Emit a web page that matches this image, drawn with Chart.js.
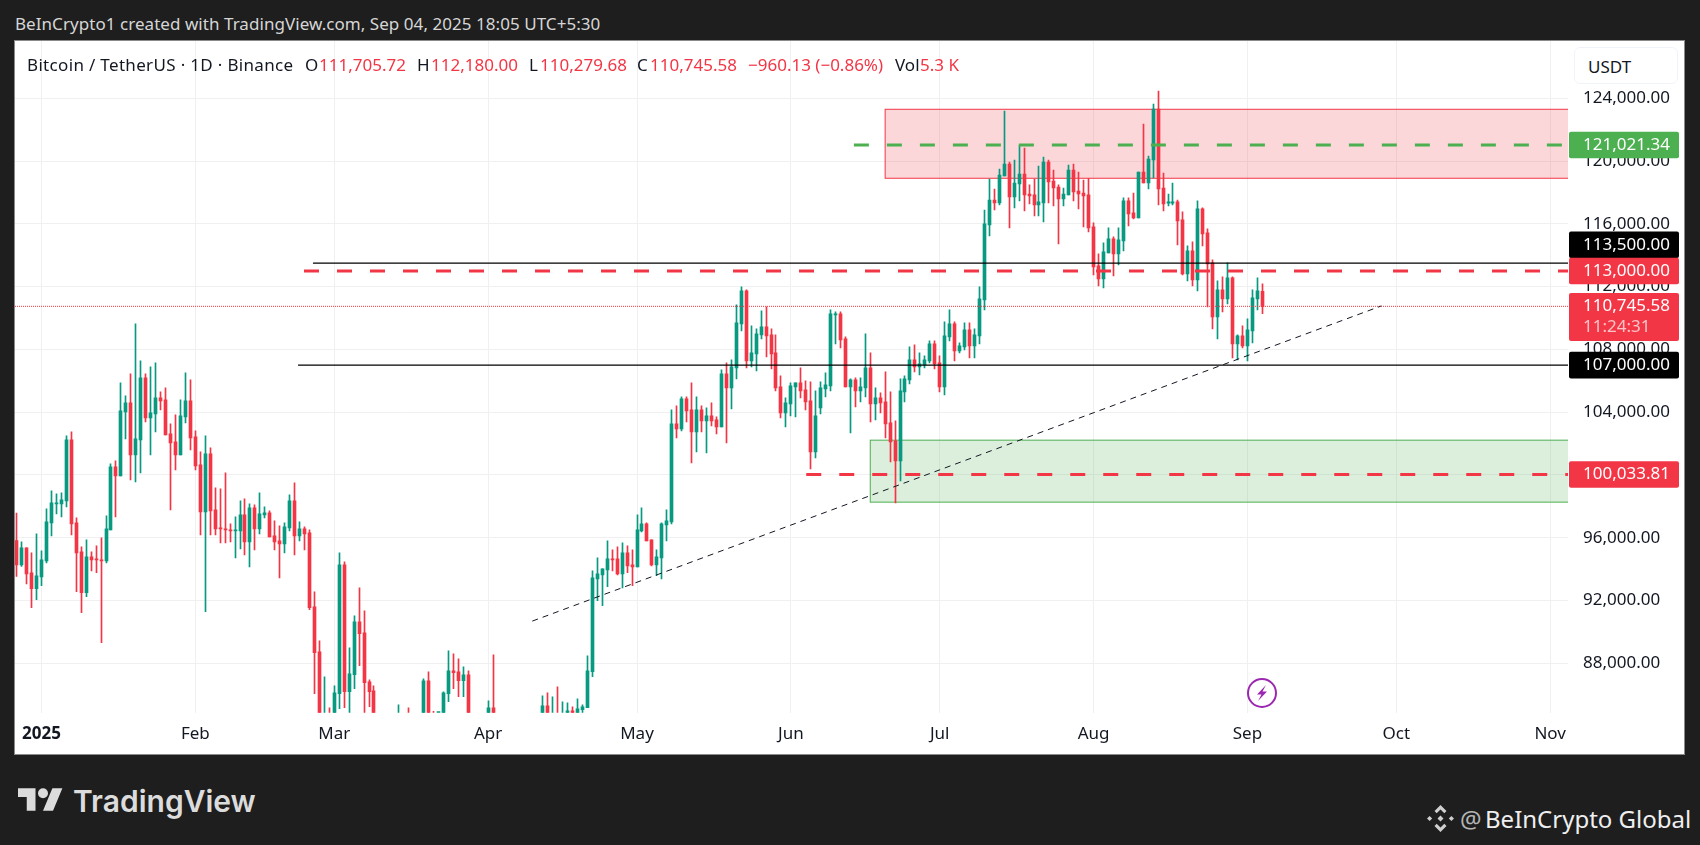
<!DOCTYPE html>
<html><head><meta charset="utf-8"><title>BTCUSDT</title>
<script src="https://cdn.jsdelivr.net/npm/chart.js@4"></script>
<style>
html,body{margin:0;padding:0;background:#1e1e1e;width:1700px;height:845px;overflow:hidden;font-family:"Noto Sans",sans-serif}
.t{position:absolute;white-space:pre;line-height:1;transform:translateY(-50%)}
#frame{position:absolute;left:15px;top:41px;width:1669px;height:713px;background:#fff;box-shadow:0 0 0 1px #8a8a8a}
canvas{position:absolute;left:15px;top:41px}
.k{color:#131722}.r{color:#f23645}
#usdt{position:absolute;left:1574px;top:47px;width:104px;height:37px;border:1px solid #f0f3fa;border-radius:6px;box-sizing:border-box;background:#fff}
</style></head><body>
<div id="frame"></div>
<canvas id="c" width="1669" height="713"></canvas>
<div class="t" style="left:15px;top:23px;font-size:17px;color:#d6d6d6;letter-spacing:.05px">BeInCrypto1 created with TradingView.com, Sep 04, 2025 18:05 UTC+5:30</div>
<div class="t k" style="left:27px;top:64px;font-size:17px;letter-spacing:.33px">Bitcoin / TetherUS · 1D · Binance</div>
<div class="t k" style="left:305px;top:64px;font-size:17px">O</div><div class="t r" style="left:319px;top:64px;font-size:17px">111,705.72</div>
<div class="t k" style="left:417px;top:64px;font-size:17px">H</div><div class="t r" style="left:431px;top:64px;font-size:17px">112,180.00</div>
<div class="t k" style="left:529px;top:64px;font-size:17px">L</div><div class="t r" style="left:540px;top:64px;font-size:17px">110,279.68</div>
<div class="t k" style="left:637px;top:64px;font-size:17px">C</div><div class="t r" style="left:650px;top:64px;font-size:17px">110,745.58</div>
<div class="t r" style="left:748px;top:64px;font-size:17px">−960.13 (−0.86%)</div>
<div class="t k" style="left:895px;top:64px;font-size:17px">Vol</div><div class="t r" style="left:920px;top:64px;font-size:17px">5.3 K</div>
<div id="usdt"></div><div class="t k" style="left:1588px;top:66px;font-size:17px">USDT</div>
<svg style="position:absolute;left:1246px;top:677px" width="32" height="32" viewBox="0 0 32 32"><circle cx="16" cy="16" r="14" fill="#fff" stroke="#9c27b0" stroke-width="2"/><path d="M20 8 L11 17.5 L15.5 17.5 L12 24 L21 14.5 L16.5 14.5 Z" fill="#9c27b0"/></svg>
<svg style="position:absolute;left:18px;top:788px" width="45" height="23" viewBox="0 0 36 18"><path fill="#dcdcdc" d="M14 18H7V7H0V0h14zM28 18h-8L27.5 0h8z"/><circle cx="20" cy="4" r="4" fill="#dcdcdc"/></svg>
<div class="t" style="left:73px;top:801px;font-size:30px;font-weight:600;font-family:Inter,sans-serif;color:#dcdcdc">TradingView</div>
<svg style="position:absolute;left:1427px;top:805px" width="27" height="27" viewBox="0 0 27 27" fill="#cfcfcf"><path d="M13.5 0l6 6-2.2 2.2-3.8-3.8-3.8 3.8L7.5 6zM0 13.5l2.6-2.6 2.6 2.6-2.6 2.6zM21.8 13.5l2.6-2.6 2.6 2.6-2.6 2.6zM13.5 10.5l3 3-3 3-3-3zM7.5 21l2.2-2.2 3.8 3.8 3.8-3.8 2.2 2.2-6 6z"/></svg>
<div class="t" style="left:1460px;top:819px;font-size:24px;color:#b5b5b5">@</div>
<div class="t" style="left:1485px;top:819px;font-size:24px;color:#efefef">BeInCrypto Global</div>
<script>
// Day numbers count from 1 Jan 2025 = 0; the first visible candle is 27 Dec 2024.
const firstDay = -5;
const opens = [95826,94276,95359,93767,92748,
93512,94531,96951,98161,98161,98352,102237,96951,95104,92493,
94786,94658,94595,94531,96505,100518,99945,104021,104594,101282,
102237,106186,103639,103893,104912,104785,102620,102110,101282,103702,
104721,102428,100645,97652,101346,97779,96633,96569,96505,96442,
96442,97461,95741,97906,96569,97461,97588,96123,95805,95614,
96633,98352,96123,96569,96314,91601,88735,84200,84700,84350,
86060,94276,86188,87270,90646,89945,86825,86251,80700,78500,
82900,83600,81000,83900,84300,82500,84000,83600,86888,84200,
83800,83800,86060,87525,87461,86888,87270,84300,82600,82400,
82500,85168,82500,83100,83800,83500,78400,79100,76300,82500,
79600,83400,85296,83700,84500,83600,84000,84977,84400,85041,
85168,87461,93384,93639,93958,94658,94658,93703,95040,94276,
94149,96442,96887,95868,94276,94722,96824,97015,103257,102938,
104849,104148,102747,104148,103448,103766,103511,103066,106441,105549,
106823,109626,111727,107269,107715,108925,109435,108925,107779,105613,
103957,104530,105613,105868,105422,104722,101473,104276,105486,105677,
110199,110263,108670,105613,106059,105358,105549,106823,104530,104913,
104658,103320,102174,100900,105295,106059,107333,106887,107014,107269,
108352,107142,105613,108798,109626,107906,108161,109243,108224,108861,
111153,115930,117522,117331,119051,119815,117713,118541,119178,117904,
117841,117204,117331,119942,118732,118350,117586,117841,119433,118095,
117968,117841,115803,113319,112491,114147,115038,114083,114911,117459,
116694,116376,119306,118605,120070,123318,118286,117310,117310,117395,
116248,112809,114274,112427,116949,115420,113510,110070,111790,111217,
112554,108351,108860,108223,109179,111217,111705.72];
const highs = [97567,95741,95359,95040,96251,
95168,97843,98989,98798,98862,102492,102747,97270,95423,95868,
95104,95486,95996,97397,100709,100900,105868,105040,106441,109625,
107269,106441,106887,107142,105295,105549,103256,103830,104785,106505,
106059,102811,101473,102492,101728,99180,99117,100136,96887,97333,
98352,98480,98161,98098,98862,97970,97715,97079,96760,96951,
98734,99499,97015,96696,96505,92557,89436,87143,85170,86569,
95040,94467,88990,91028,92811,91346,86952,86570,84000,83500,
84300,84000,85360,84600,85168,84700,84500,87015,87461,84935,
84500,86188,88799,88608,88289,87780,87525,84500,83500,83900,
85614,88544,83200,84700,84200,83800,81200,80800,83500,82700,
84300,85933,86124,85869,86506,85551,85487,85232,85742,85360,
88480,93894,94722,94021,95805,95231,95423,95677,95486,95231,
97461,97906,96951,95868,95231,96951,97779,104148,104403,104976,
104976,105868,104976,104403,104276,104594,103702,106696,107142,107333,
110836,111982,111791,109498,109307,110454,110708,109307,108925,106314,
104913,105868,105868,106823,105995,105932,105358,105932,106505,110517,
110390,110390,108798,106123,106186,106186,108989,107779,105549,105231,
106569,105295,103448,106123,106314,108161,108288,107779,107588,108543,
108543,107588,109753,110517,109753,108416,109689,109689,109307,111982,
116885,118860,118223,119497,123191,119942,120070,121025,120834,118478,
118860,119688,120261,120070,119433,118478,118286,119751,119815,119306,
118796,118902,116057,114083,114784,115739,115166,115739,117650,117650,
117968,119306,122363,120325,123636,124464,119242,117904,118605,117522,
116758,114592,114847,117459,117013,115675,113701,112363,112618,113510,
112618,108924,109497,109943,111790,112554,112180];
const lows = [93533,94170,93066,91537,92047,
92939,94404,96123,97524,97333,97970,96187,92557,91219,92238,
93894,93767,89308,94404,96505,97333,99945,102301,99690,99562,
100136,103384,101282,102747,104148,102556,97779,100327,101282,103320,
101600,100327,96187,91283,96187,96187,95677,95677,95741,94722,
95295,94913,94149,95231,96251,97270,96059,95231,93448,95040,
96442,94913,95805,95231,91410,86060,82200,82700,78200,83800,
85105,85168,81400,86379,87844,84600,85232,80000,77400,76600,
82000,79900,80800,83600,81900,82400,81100,82000,83600,83200,
83600,83200,85551,86379,85869,85869,83900,81600,81500,81300,
82400,82300,81200,81600,82300,77100,74500,76200,74600,78400,
78900,83100,83100,83600,83100,83100,83800,84100,84300,84600,
85168,87143,91983,91665,92875,93894,93639,92811,93767,92939,
94149,96378,95805,94212,93576,93384,95805,96888,102365,102811,
103384,100773,101473,102747,101410,103129,102620,103066,102047,104212,
106123,109180,106823,106887,106632,108670,107524,106760,105358,103639,
103066,103766,103702,104913,104148,100391,101091,103894,104976,105358,
108352,108097,105613,102683,104339,104658,104976,103384,103511,103957,
102365,100836,98225,99626,104658,105804,106569,106377,106823,107142,
106760,105295,105104,108543,107269,107779,107970,107460,107460,108352,
110516,115229,116885,117204,119051,115739,117013,117459,116822,117267,
116503,116503,116121,117331,117140,114720,117140,117841,117459,116949,
115803,115484,112745,112045,111917,114147,112682,113382,114274,115866,
116312,116376,118605,118223,118923,117204,116822,117140,117204,114656,
112745,112363,112045,111726,114592,110707,109306,108669,110389,110898,
107459,107332,108096,107268,108415,110516,110279.68];
const closes = [94276,95359,93703,92748,93576,
94595,97015,98225,98225,98416,102237,96887,95040,92493,94786,
94595,94595,94531,96569,100518,99945,104084,104594,101282,102301,
106186,103639,103957,104912,104721,102556,102046,101282,103766,104721,
102365,100581,97652,101346,97715,96569,96569,96505,96442,96505,
97461,95741,97906,96569,97524,97588,96059,95741,95614,96696,
98352,96123,96569,96251,91537,88671,84700,84700,84350,86124,
94276,86188,87334,90646,89882,86761,86188,80700,78500,82900,
83600,81000,83900,84300,82500,84000,83600,86888,84200,83800,
83800,86124,87525,87398,86888,87270,84300,82600,82400,82500,
85168,82500,83100,83800,83500,78400,79100,76300,82500,79600,
83400,85296,83700,84500,83600,84000,84977,84400,85105,85232,
87525,93448,93703,94021,94658,94595,93703,95040,94212,94149,
96505,96887,95805,94276,94786,96887,97079,103257,102938,104849,
104085,102747,104148,103448,103766,103448,103066,106441,105549,106887,
109689,111727,107269,107779,108989,109435,108861,107715,105549,103957,
104594,105677,105868,105358,104658,101473,103766,105549,105741,110263,
110263,108607,105613,106059,105358,105613,106823,104530,104913,104594,
103257,102110,100900,105358,106123,107333,106887,107078,107333,108352,
107078,105613,108861,109626,107906,108224,109243,108224,108925,111218,
115994,117522,117331,119114,119815,117713,118605,119178,117841,117777,
117204,117395,119942,118669,118286,117586,117904,119433,118032,117904,
117777,115739,113255,112491,114210,115038,114083,114975,117459,116631,
116376,119306,118605,120133,123318,118223,117267,117395,117395,116185,
112809,114274,112427,116949,115357,113446,110070,111790,111217,112554,
108351,108860,108223,109242,111281,111726,110745.58];

const monthDays = [0,31,59,90,120,151,181,212,243,273,304];
const monthLabels = ["2025","Feb","Mar","Apr","May","Jun","Jul","Aug","Sep","Oct","Nov"];
const priceTicks = [88000,92000,96000,100000,104000,108000,112000,116000,120000,124000];

const lastPrice = 110745.58;
const blackHigh = 113500, blackLow = 107000, redLevel = 113000, greenLevel = 121021.34, redLow = 100033.81;
const trendDays = [98.9,270], trendPrices = [90690,110772];
const redZone = [170,123300,118905], greenZone = [167,102217,98269];

const tagPrices = [greenLevel,blackHigh,redLevel,lastPrice,blackLow,redLow];
const tagTexts  = ["121,021.34","113,500.00","113,000.00","110,745.58","107,000.00","100,033.81"];

const GREEN='#089981', RED='#f23645', LINE_GREEN='#4caf50', INK='#131722';
const FONT='"Noto Sans",sans-serif';
const xMin=-5.34, xMax=307.6, yMin=84853, yMax=127650;

const up = closes.map((c,i)=>c>=opens[i]);
const colors = up.map(u=>u?GREEN:RED);
const wicks = lows.map((l,i)=>({x:i+firstDay,y:[l,highs[i]]}));
const bodies = opens.map((o,i)=>({x:i+firstDay,y:[o,closes[i]]}));
const hline=(from,v,color,width,dash,order)=>({type:'line',order,data:[{x:from,y:v},{x:xMax,y:v}],borderColor:color,borderWidth:width,borderDash:dash,pointRadius:0,fill:false,tension:0});

const tagStyle = [
 {fill:LINE_GREEN,shift:0},{fill:'#000',shift:-18.3},{fill:RED,shift:0},
 {fill:RED,shift:10.6,h:48,countdown:'11:24:31'},{fill:'#000',shift:0},{fill:RED,shift:0}];

const noPad=s=>{s.paddingLeft=s.paddingRight=s.paddingTop=s.paddingBottom=0;};

const crispBars={id:'crispBars',
 afterDatasetsUpdate(ch){
  ch.getSortedVisibleDatasetMetas().filter(m=>m.type==='bar').forEach(m=>{
    m.data.forEach(el=>{el.x=Math.floor(el.x)+.5;});
  });
 }};

const overlays={id:'overlays',
 beforeDatasetsDraw(ch){
  const {ctx,scales:{x,y},chartArea:a}=ch;
  ctx.save();ctx.beginPath();ctx.rect(a.left,a.top,a.right-a.left,a.bottom-a.top);ctx.clip();
  [[redZone,'rgba(242,54,69,.2)',RED],[greenZone,'rgba(76,175,80,.2)',LINE_GREEN]].forEach(([z,f,s])=>{
    const l=x.getPixelForValue(z[0]),t=y.getPixelForValue(z[1]),b=y.getPixelForValue(z[2]);
    ctx.fillStyle=f;ctx.fillRect(l,t,a.right-l,b-t);
    ctx.strokeStyle=s;ctx.lineWidth=1;ctx.strokeRect(l,t,a.right-l+3,b-t);
  });
  ctx.restore();
 },
 afterDraw(ch){
  const {ctx,scales:{y},chartArea:a}=ch;
  ctx.save();
  tagPrices.forEach((p,i)=>{
    const s=tagStyle[i],h=s.h||26.6,cy=y.getPixelForValue(p)+s.shift,bx=a.right+1,w=110;
    ctx.fillStyle=s.fill;ctx.beginPath();ctx.roundRect(bx,cy-h/2,w,h,2);ctx.fill();
    ctx.fillStyle='#fff';ctx.font='17px '+FONT;ctx.textBaseline='middle';ctx.textAlign='left';
    const lx=a.right+15;
    if(s.countdown){
      ctx.fillText(tagTexts[i],lx,cy-11);
      ctx.fillStyle='rgba(255,255,255,.7)';ctx.fillText(s.countdown,lx,cy+10);
    } else ctx.fillText(tagTexts[i],lx,cy);
  });
  ctx.restore();
 }};

new Chart(document.getElementById('c'),{
 type:'bar',
 data:{datasets:[
  hline(154.1,redLow,RED,3,[15,18],1),
  hline(163.7,greenLevel,LINE_GREEN,3,[15,18],1),
  hline(52.9,redLevel,RED,3,[15,18],1),
  hline(54.7,blackHigh,'#000',1.2,[],1),
  hline(51.7,blackLow,'#000',1.2,[],1),
  {type:'line',order:0,data:[{x:trendDays[0],y:trendPrices[0]},{x:trendDays[1],y:trendPrices[1]}],borderColor:INK,borderWidth:1,borderDash:[6,5],pointRadius:0,fill:false,tension:0},
  hline(xMin,lastPrice,RED,1,[1,1],2),
  {type:'bar',order:3,data:bodies,backgroundColor:colors,barThickness:3,minBarLength:1,grouped:false,borderWidth:0},
  {type:'bar',order:4,data:wicks,backgroundColor:colors,barThickness:1,grouped:false,borderWidth:0}
 ]},
 options:{
  responsive:false,animation:false,devicePixelRatio:1,
  layout:{padding:0},
  plugins:{legend:{display:false},tooltip:{enabled:false}},
  scales:{
   x:{type:'linear',offset:false,min:xMin,max:xMax,
      afterBuildTicks(s){s.ticks=monthDays.map(v=>({value:v}));},
      afterFit(s){s.height=41.3;noPad(s);},
      grid:{color:'#f0f0f0',drawTicks:false,lineWidth:1,offset:false},border:{display:false},
      ticks:{autoSkip:false,maxRotation:0,padding:11,color:INK,
        font:c=>({family:FONT,size:17,weight:c.index===0?'bold':'normal'}),
        callback:(v,i)=>monthLabels[i]}},
   y:{type:'linear',position:'right',min:yMin,max:yMax,
      afterBuildTicks(s){s.ticks=priceTicks.map(v=>({value:v}));},
      afterFit(s){s.width=116;noPad(s);},
      grid:{color:'#f0f0f0',drawTicks:false,lineWidth:1},border:{display:false},
      ticks:{padding:15,color:INK,font:{family:FONT,size:17},
        callback:v=>v.toLocaleString('en-US',{minimumFractionDigits:2,maximumFractionDigits:2})}}
  }
 },
 plugins:[crispBars,overlays]
});
</script>
</body></html>
